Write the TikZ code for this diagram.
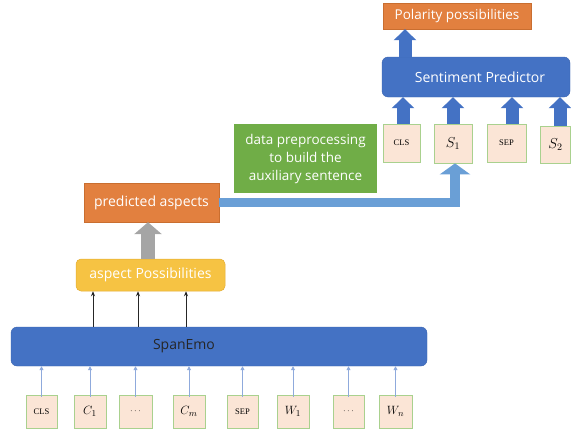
\documentclass[tikz,border=0pt]{standalone}
\usepackage{fontspec}
\setsansfont{Open Sans}
\newfontfamily\tokserif{Liberation Serif}
\usetikzlibrary{arrows.meta,calc}
\definecolor{cblue}{HTML}{4472C4}
\definecolor{cblueline}{HTML}{3A63AE}
\definecolor{clblue}{HTML}{6A9FD6}
\definecolor{corange}{HTML}{E2803F}
\definecolor{corangeline}{HTML}{C96E30}
\definecolor{cgreen}{HTML}{70AD47}
\definecolor{cyellow}{HTML}{F6C343}
\definecolor{cyellowline}{HTML}{E4AE33}
\definecolor{cgray}{HTML}{A5A5A5}
\definecolor{ctokfill}{HTML}{FBE5D6}
\definecolor{ctokline}{HTML}{A9D18E}
\definecolor{cthin}{HTML}{8FAADC}
\tikzset{
  lbl/.style={font=\sffamily\fontsize{13.5}{16}\selectfont, text=white},
  boxbase/.style={inner sep=0pt, minimum width=#1},
  obox/.style={boxbase=#1, fill=corange, draw=corangeline, line width=0.4pt, lbl},
  tok/.style={boxbase=#1, fill=ctokfill, draw=ctokline, line width=0.8pt},
  tokw/.style={font=\tokserif\fontsize{8.5}{10}\selectfont},
  tokm/.style={font=\fontsize{14}{16}\selectfont},
  tokmb/.style={font=\fontsize{13}{15}\selectfont},
  blockup/.style={line width=13pt, -{Triangle[width=22pt,length=11pt]}, cblue},
  thinup/.style={cthin, line width=0.8pt, -{Triangle[width=4pt,length=4pt]}},
  blackup/.style={black!85, line width=0.7pt, -{Stealth[width=4pt,length=5pt]}}
}
\begin{document}
\begin{tikzpicture}[x=1pt,y=-1pt]
\useasboundingbox (0,0) rectangle (571,431);

% top part
\node[obox=148, minimum height=26] (pol) at (457,16) {Polarity possibilities};
\node[boxbase=188, minimum height=40, rounded corners=6pt, fill=cblue, draw=cblueline, line width=0.4pt, lbl, font=\sffamily\fontsize{14}{16}\selectfont] (sp) at (476,77) {\hspace*{8pt}Sentiment Predictor};

\node[tok=37, minimum height=38, tokw] (tcls) at (401.5,143) {CLS};
\node[tok=38, minimum height=39, tokm] (ts1) at (453,143.5) {$S_1$};
\node[tok=39, minimum height=38, tokw] (tsep) at (506.5,143) {SEP};
\node[tok=30, minimum height=37, tokm] (ts2) at (555.5,144.5) {$S_2$};

\node[boxbase=143, minimum height=69, fill=cgreen, lbl, align=center, font=\sffamily\fontsize{13.5}{18}\selectfont] (prep) at (305.5,158.5) {data preprocessing\\to build the\\auxiliary sentence};

\node[obox=135, minimum height=39, font=\sffamily\fontsize{14}{16}\selectfont] (pa) at (151.5,202.5) {predicted aspects};
\node[boxbase=149, minimum height=32, rounded corners=5pt, fill=cyellow, draw=cyellowline, line width=0.5pt, lbl, font=\sffamily\fontsize{14}{16}\selectfont] (ap) at (150.5,275) {aspect Possibilities};

\node[boxbase=416, minimum height=39, rounded corners=6pt, fill=cblue, draw=cblueline, line width=0.4pt] (span) at (219,346.5) {};
\node[font=\sffamily\fontsize{14}{16}\selectfont, text=black!85, inner sep=0pt] (spanlbl) at (184,346.5) {SpanEmo};

% bottom tokens
\node[tok=31, minimum height=33, tokw] (bcls) at (41.5,411.5) {CLS};
\node[tok=32, minimum height=33, tokmb] (bc1) at (90,411.5) {$C_1$};
\node[tok=33, minimum height=33, font=\fontsize{9}{10}\selectfont] (bd1) at (135.5,411.5) {$\cdots$};
\node[tok=32, minimum height=33, tokmb] (bcm) at (189,411.5) {$C_m$};
\node[tok=31, minimum height=33, tokw] (bsep) at (242.5,411.5) {SEP};
\node[tok=32, minimum height=33, tokmb] (bw1) at (293,411.5) {$W_1$};
\node[tok=31, minimum height=33, font=\fontsize{9}{10}\selectfont] (bd2) at (348.5,411.5) {$\cdots$};
\node[tok=33, minimum height=33, tokmb] (bwn) at (395.5,411.5) {$W_n$};

% block arrows
\coordinate (xpol) at (405,0);
\draw[blockup] (sp.north -| xpol) -- (pol.south -| xpol);
\coordinate (xa1) at (403,0);
\coordinate (xa2) at (453,0);
\coordinate (xa3) at (512,0);
\coordinate (xa4) at (560,0);
\draw[blockup] (tcls.north -| xa1) -- (sp.south -| xa1);
\draw[blockup] (ts1.north -| xa2) -- (sp.south -| xa2);
\draw[blockup] (tsep.north -| xa3) -- (sp.south -| xa3);
\draw[blockup] (ts2.north -| xa4) -- (sp.south -| xa4);

\coordinate (xs1) at (455,0);
\draw[clblue, line width=9.5pt, -{Triangle[width=30pt,length=11pt]}] (pa.east) -| (ts1.south -| xs1);

\coordinate (xg) at (148,0);
\draw[cgray, line width=14pt, -{Triangle[width=27pt,length=12pt]}] (ap.north -| xg) -- (pa.south -| xg);

% thin black arrows
\coordinate (xb1) at (93,0);
\coordinate (xb2) at (138,0);
\coordinate (xb3) at (186,0);
\draw[blackup] (span.north -| xb1) -- (ap.south -| xb1);
\draw[blackup] (span.north -| xb2) -- (ap.south -| xb2);
\draw[blackup] (span.north -| xb3) -- (ap.south -| xb3);

% thin blue arrows
\foreach \t in {bcls,bc1,bd1,bcm,bsep,bw1,bd2,bwn}{
  \draw[thinup] ([yshift=-2pt]\t.north) -- (\t.north |- span.south);
}
\end{tikzpicture}
\end{document}
